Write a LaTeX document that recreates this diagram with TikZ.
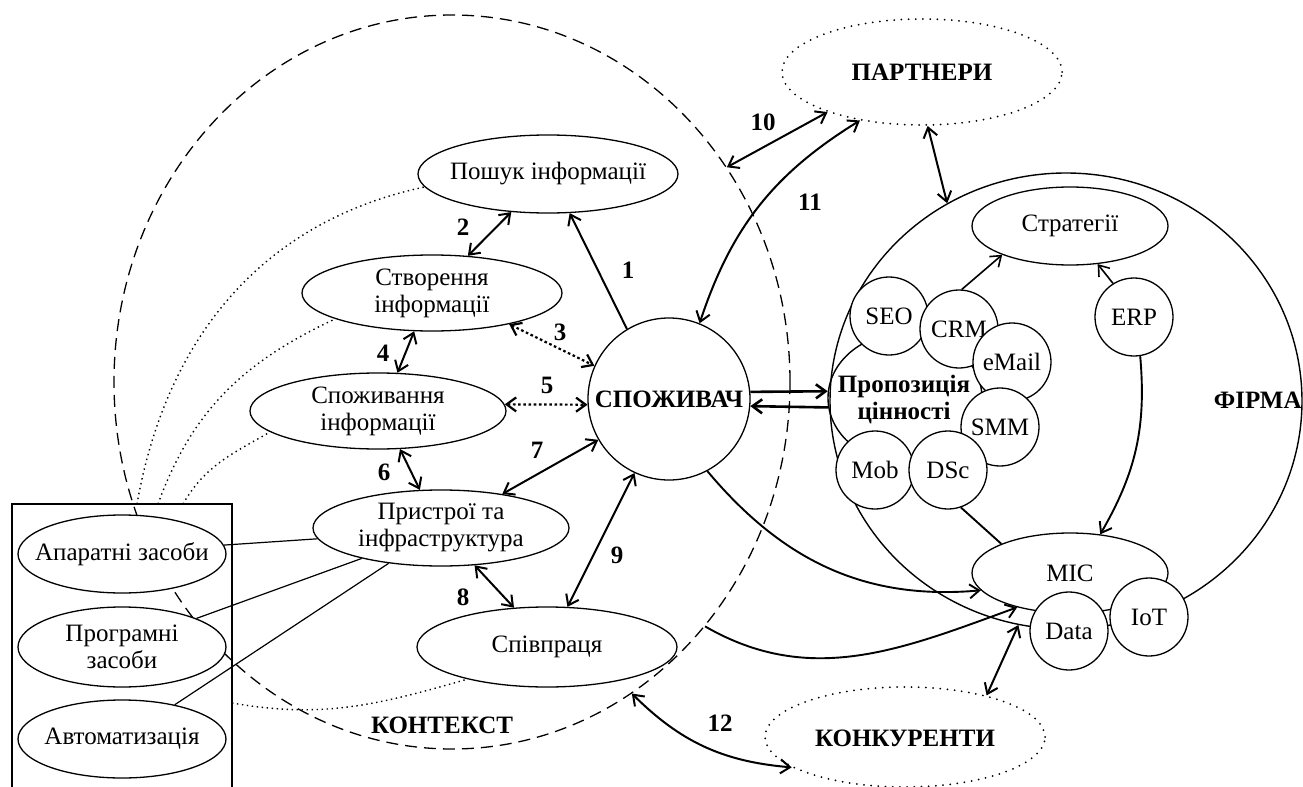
\documentclass[tikz,border=0pt]{standalone}
\usepackage{fontspec}
\setmainfont{Liberation Serif}
\usetikzlibrary{shapes.geometric,arrows.meta,calc}
\newcommand{\zw}[1]{\makebox[0pt]{#1}}
\begin{document}
\begin{tikzpicture}[x=0.5pt,y=-0.5pt,
  >={Straight Barb[length=4.8pt,width=7pt]},
  txt/.style={font=\fontsize{12.5}{13.5}\selectfont},
  el/.style={ellipse,draw,fill=white,line width=0.65pt,inner sep=0pt,align=center,txt},
  cir/.style={circle,draw,fill=white,line width=0.65pt,inner sep=0pt,minimum size=39pt,txt},
  lbl/.style={font=\bfseries\fontsize{12.5}{13.5}\selectfont,inner sep=0pt,align=center},
  ar/.style={line width=1pt},
  dar/.style={line width=1.1pt,dash pattern=on 1.3pt off 1.3pt},
  thk/.style={line width=1.3pt},
  ln/.style={line width=0.95pt},
  thinl/.style={line width=0.6pt},
  dot/.style={line width=0.7pt,dash pattern=on 0.7pt off 1.8pt},
  rdot/.style={line width=1pt,dash pattern=on 0pt off 3.6pt,line cap=round},
]
\useasboundingbox (0,0) rectangle (1303,787);
\fill[white] (0,0) rectangle (1303,787);

% big outlines
\node[ellipse,draw,dashed,dash pattern=on 6pt off 3.5pt,line width=0.65pt,minimum width=338pt,minimum height=367pt,inner sep=0pt] (kont) at (452,382) {};
\node[ellipse,draw,line width=0.7pt,minimum width=236pt,minimum height=228pt,inner sep=0pt] (firma) at (1066,401) {};
\node[ellipse,draw,line width=0.7pt,minimum width=77pt,minimum height=65pt,inner sep=0pt] (prop) at (905,398) {};
\node[ellipse,rdot,draw,minimum width=140pt,minimum height=53pt,inner sep=0pt] (partn) at (922,72) {};
\node[ellipse,rdot,draw,minimum width=140pt,minimum height=50pt,inner sep=0pt] (konk) at (905,737) {};

% box
\node[rectangle,draw,line width=0.75pt,minimum width=110pt,minimum height=150pt,inner sep=0pt] (box) at (122,654) {};
\coordinate (d1) at (137,504);
\coordinate (d2) at (158,504);
\coordinate (d3) at (183,504);
\coordinate (d4) at (232,703);

% left ellipses
\node[el,minimum width=130pt,minimum height=39pt] (poshuk) at (548,174) {\zw{Пошук інформації}};
\node[el,minimum width=130pt,minimum height=38pt] (stvor) at (432,293) {\zw{Створення}\\\zw{інформації}};
\node[el,minimum width=128pt,minimum height=38pt] (spozh) at (378,411) {\zw{Споживання}\\\zw{інформації}};
\node[el,minimum width=128pt,minimum height=38pt] (prystr) at (441,528) {\zw{Пристрої та}\\\zw{інфраструктура}};
\node[el,minimum width=130pt,minimum height=40pt] (spivp) at (547,647) {\zw{Співпраця}};

\node[el,minimum width=104pt,minimum height=39pt] (apar) at (122,554) {\zw{Апаратні засоби}};
\node[el,minimum width=104pt,minimum height=40pt] (prog) at (122,647) {\zw{Програмні}\\\zw{засоби}};
\node[el,minimum width=104pt,minimum height=39pt] (avto) at (122,739) {\zw{Автоматизація}};

\node[circle,draw,fill=white,line width=0.65pt,minimum size=81pt,inner sep=0pt,lbl] (spoz) at (669,399) {\zw{СПОЖИВАЧ}};

% firm
\node[el,minimum width=98pt,minimum height=39pt] (strat) at (1070,226) {\zw{Стратегії}};
\node[el,minimum width=98pt,minimum height=40pt] (mic) at (1070,573) {\zw{MIC}};
\node[cir] (seo) at (889,316) {SEO};
\node[cir] (crm) at (959,329) {CRM};
\node[cir] (email) at (1012,362) {eMail};
\node[cir] (smm) at (1000,427) {SMM};
\node[cir] (mob) at (875,470) {Mob};
\node[cir] (dsc) at (948,470) {DSc};
\node[cir] (erp) at (1134,317) {ERP};
\node[cir] (data) at (1069,631) {Data};
\node[cir] (iot) at (1149,617) {IoT};
\node[lbl] (proptxt) at (904,399) {Пропозиція\\цінності};

% labels
\node[lbl] (lpartn) at (922,72) {ПАРТНЕРИ};
\node[lbl] (lkonk) at (905,738) {КОНКУРЕНТИ};
\node[lbl] (lkont) at (442,725) {КОНТЕКСТ};
\node[lbl,anchor=east] (lfirma) at (1302,400) {ФІРМА};

% dotted curves
\draw[dot] (d1) to[out=80,in=192] (poshuk.186);
\draw[dot] (d2) to[out=70,in=205] (stvor.195);
\draw[dot] (d3) to[out=60,in=210] (spozh.191);
\draw[dot] (d4) to[out=-10,in=196] (spivp.202);

% box links
\draw[thinl] (apar.5) -- (prystr.185);
\draw[thinl] (prog.21) -- (prystr.201);
\draw[thinl] (avto.33) -- (prystr.214);

% numbered arrows
\draw[ar,->] (spoz.121) -- (poshuk.-61);
\draw[ar,<->] (poshuk.-134) -- (stvor.46);
\draw[dar,<->] (stvor.-22.5) -- (spoz.156);
\draw[ar,<->] (stvor.-115) -- (spozh.63);
\draw[dar,<->] (spozh.3) -- (spoz.184);
\draw[ar,<->] (spozh.-60) -- (prystr.119);
\draw[ar,<->] (prystr.29) -- (spoz.-150);
\draw[ar,<->] (prystr.-48) -- (spivp.130);
\draw[ar,<->] (spivp.63) -- (spoz.-115);
\draw[ar,<->] (kont.38) -- (partn.-157);
\draw[ar,<->] (spoz.68) to[bend left=20] (partn.-142);
\draw[ar,<->] (partn.-84) -- (firma.121);
\draw[ar,<->] (kont.-60) to[bend right=20] (konk.-165);
\draw[ar,<->] (firma.-102) -- (konk.27);

\draw[thk,->] (spoz.5.7) -- (prop.175);
\draw[thk,<-] (spoz.-5.7) -- (prop.-173);

\draw[ln,->] (spoz.-62) to[out=-50,in=185] (mic.-169);
\draw[ln,->] (kont.-44) to[out=-30,in=200] (mic.-147);
\draw[ln,->] (erp.-81) to[out=-85,in=60] (mic.52);
\draw[ln] (dsc.-71) -- (mic.157);
\draw[line width=0.8pt,->] (crm.86) -- (strat.-157);
\draw[line width=0.8pt,->] (erp.122) -- (strat.-54);

\node[lbl] (n1) at (628,270) {1};
\node[lbl] (n2) at (463,227) {2};
\node[lbl] (n3) at (560,332) {3};
\node[lbl] (n4) at (383,353) {4};
\node[lbl] (n5) at (547,385) {5};
\node[lbl] (n6) at (384,472) {6};
\node[lbl] (n7) at (537,450) {7};
\node[lbl] (n8) at (463,597) {8};
\node[lbl] (n9) at (617,555) {9};
\node[lbl] (n10) at (763,122) {10};
\node[lbl] (n11) at (810,202) {11};
\node[lbl] (n12) at (720,723) {12};
\end{tikzpicture}
\end{document}
